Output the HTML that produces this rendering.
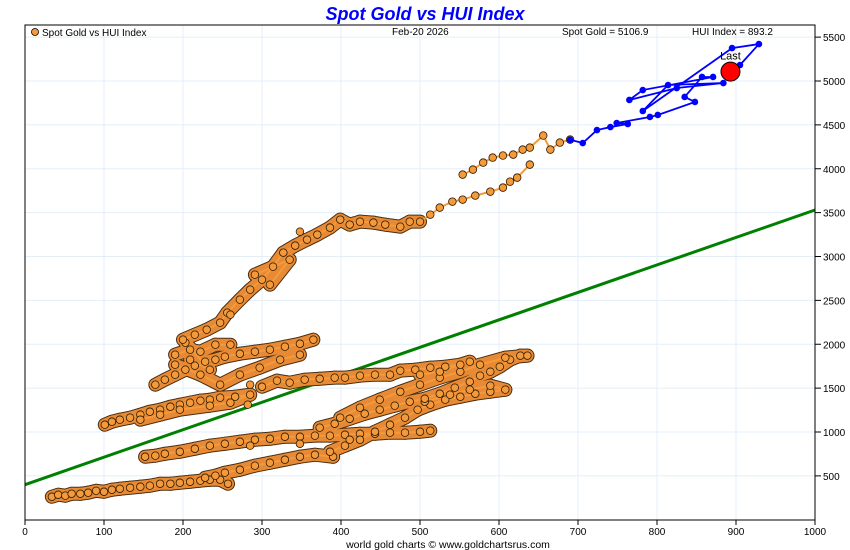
<!DOCTYPE html>
<html><head><meta charset="utf-8"><style>
html,body{margin:0;padding:0;background:#fff;}
svg{display:block;font-family:"Liberation Sans",sans-serif;}
</style></head><body>
<svg id="chart" width="850" height="550" viewBox="0 0 850 550">
<rect x="0" y="0" width="850" height="550" fill="#fff"/>
<text x="425" y="20" text-anchor="middle" font-size="18" font-weight="bold" font-style="italic" fill="#0000ff">Spot Gold vs HUI Index</text>
<g id="grid"></g>
<g id="trend"></g>
<g id="orange"></g>
<g id="blue"></g>
<g id="axes"></g>
<rect x="25" y="25" width="790" height="495" fill="none" stroke="#000" stroke-width="1"/>
<g>
<circle cx="35" cy="32" r="3.5" fill="#f59a3a" stroke="#000" stroke-width="0.8"/>
<text x="42" y="36" font-size="10">Spot Gold vs HUI Index</text>
</g>
<text x="392" y="35" font-size="10">Feb-20  2026</text>
<text x="562" y="35" font-size="10">Spot Gold = 5106.9</text>
<text x="692" y="35" font-size="10">HUI Index = 893.2</text>
<text x="448" y="548" text-anchor="middle" font-size="10.5">world gold charts © www.goldchartsrus.com</text>
</svg>
<script>
const xTicks=[0,100,200,300,400,500,600,700,800,900,1000];
const yTicks=[500,1000,1500,2000,2500,3000,3500,4000,4500,5000,5500];
const trendHui=[0,1000];
const trendGold=[400,3530];
const orangeHui=[34,42,51,59,70,80,90,100,110,120,133,146,158,171,184,196,209,222,234,247,257,
152,165,177,196,215,234,253,272,291,310,329,348,367,386,405,424,443,462,481,500,513,285,348,411,
228,241,253,272,291,310,329,348,367,390,386,405,424,443,462,481,497,513,532,551,570,589,608,589,563,538,506,
373,392,411,430,449,468,487,506,525,544,563,576,589,601,614,627,636,608,576,551,525,500,475,449,424,399,
300,319,335,354,373,392,405,424,443,462,475,494,513,532,551,563,525,500,
101,110,120,133,146,158,171,184,196,209,222,234,247,266,285,260,234,196,171,146,282,
165,177,190,203,215,228,241,253,272,291,310,329,348,365,190,209,222,241,260,190,222,247,272,297,323,348,209,234,203,285,
200,215,230,247,256,272,285,300,314,327,342,357,370,386,399,411,424,441,456,475,487,500,513,525,541,554,570,589,605,614,623,639,310,335,291,260,348,
554,567,580,592,605,618,630,639,656,665,677,690];
const orangeGold=[262,285,274,296,296,308,330,319,342,353,365,376,388,410,410,422,433,445,456,456,410,
718,730,752,775,809,844,866,889,912,923,946,946,958,958,969,980,980,992,992,1003,1015,844,866,912,
479,502,536,570,616,650,684,718,741,718,775,844,912,1003,1083,1163,1254,1311,1368,1402,1436,1459,1482,1528,1482,1425,1345,
1049,1094,1151,1208,1254,1300,1345,1379,1436,1505,1573,1642,1687,1744,1824,1870,1870,1847,1767,1687,1619,1539,1459,1368,1277,1163,
1516,1585,1562,1596,1607,1619,1619,1642,1653,1653,1699,1710,1733,1744,1767,1801,1687,1653,
1083,1117,1140,1163,1197,1231,1254,1288,1311,1334,1357,1368,1391,1402,1425,1334,1300,1254,1197,1140,1311,
1539,1596,1653,1710,1756,1801,1824,1858,1892,1915,1938,1972,2006,2052,1881,1938,1915,1995,1995,1767,1653,1539,1653,1733,1824,1881,1824,1710,2018,1539,
2052,2109,2166,2246,2360,2508,2622,2736,2884,3044,3124,3192,3249,3329,3420,3363,3397,3386,3363,3340,3397,3397,3477,3557,3625,3648,3694,3739,3785,3853,3899,4047,2679,2964,2793,2337,3283,
3933,3990,4070,4127,4150,4161,4218,4241,4378,4218,4298,4332];
const blueHui=[690,706,724,741,763,749,791,801,848,835,857,871,782,765,825,884,814,782,895,929,905,893];
const blueGold=[4330,4293,4441,4475,4510,4521,4590,4613,4761,4818,5046,5046,4897,4784,4920,4977,4954,4658,5375,5421,5182,5107];

const L=25,R=815,T=25,B=520;
const xs=v=>L+v*(R-L)/1000;
const ys=v=>519.75-v*0.08775;
const NS='http://www.w3.org/2000/svg';
function mk(tag,attrs,parent){const e=document.createElementNS(NS,tag);for(const k in attrs)e.setAttribute(k,attrs[k]);parent.appendChild(e);return e;}
const grid=document.getElementById('grid'),axes=document.getElementById('axes');
xTicks.forEach(t=>{
  if(t>0&&t<1000){const g=mk('line',{x1:xs(t),x2:xs(t),y1:T,y2:B,stroke:'#e3eff8','stroke-width':1},grid);
  
  }
  const tk=mk('line',{x1:xs(t),x2:xs(t),y1:B,y2:B+5,stroke:'#000'},axes);
  
  
  const lb=mk('text',{x:xs(t),y:B+15,'text-anchor':'middle','font-size':10},axes);lb.textContent=t;
  
  
});
yTicks.forEach(t=>{
  const g=mk('line',{x1:L,x2:R,y1:ys(t),y2:ys(t),stroke:'#e3eff8','stroke-width':1},grid);
  
  
  const tk=mk('line',{x1:R,x2:R+6,y1:ys(t),y2:ys(t),stroke:'#000'},axes);
  
  
  const lb=mk('text',{x:R+8,y:ys(t)+4,'font-size':10},axes);lb.textContent=t;
  
  
});
const tr=mk('line',{x1:xs(trendHui[0]),y1:ys(trendGold[0]),x2:xs(trendHui[1]),y2:ys(trendGold[1]),stroke:'#008000','stroke-width':3},document.getElementById('trend'));



const og=document.getElementById('orange');
[['#4a2e10',14],['#e88a35',12]].forEach(([col,w])=>{
  for(let i=1;i<orangeHui.length;i++){
    if(orangeGold[i]>3450||orangeGold[i-1]>3450)continue;
    const x1=xs(orangeHui[i-1]),y1=ys(orangeGold[i-1]),x2=xs(orangeHui[i]),y2=ys(orangeGold[i]);
    if(Math.hypot(x2-x1,y2-y1)<40){const ln=mk('line',{x1,y1,x2,y2,stroke:col,'stroke-width':w,'stroke-linecap':'round'},og);
    
    }
  }
});
for(let i=1;i<orangeHui.length;i++){
  const x1=xs(orangeHui[i-1]),y1=ys(orangeGold[i-1]),x2=xs(orangeHui[i]),y2=ys(orangeGold[i]);
  if(Math.hypot(x2-x1,y2-y1)<40){const ln=mk('line',{x1,y1,x2,y2,stroke:'#f59a3a','stroke-width':2},og);
  
  }
}
for(let i=0;i<orangeHui.length;i++){
  const c=mk('circle',{cx:xs(orangeHui[i]),cy:ys(orangeGold[i]),r:3.8,fill:'#f59a3a',stroke:'#2a1a00','stroke-width':0.8},og);
  
  
}
const bg=document.getElementById('blue');
const pts=blueHui.map((h,i)=>xs(h)+','+ys(blueGold[i])).join(' ');
const pl=mk('polyline',{points:pts,fill:'none',stroke:'#0000ff','stroke-width':1.8},bg);


for(let i=0;i<blueHui.length-1;i++){
  const c=mk('circle',{cx:xs(blueHui[i]),cy:ys(blueGold[i]),r:3.3,fill:'#0000ff'},bg);
  
  
}
const n=blueHui.length-1;
const last=mk('circle',{cx:xs(blueHui[n]),cy:ys(blueGold[n]),r:9.5,fill:'#ff0000',stroke:'#000','stroke-width':1},bg);


const lt=mk('text',{x:xs(blueHui[n]),y:ys(blueGold[n])-12,'text-anchor':'middle','font-size':11},bg);lt.textContent='Last';


</script>
</body></html>
